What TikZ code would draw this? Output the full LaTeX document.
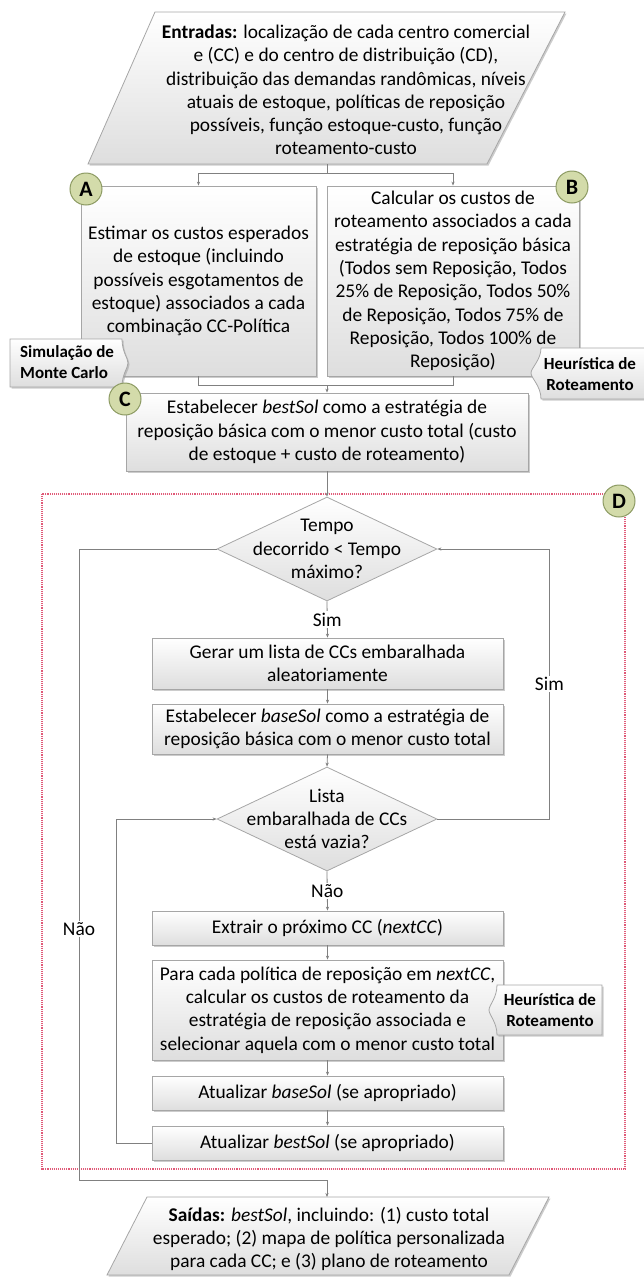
\documentclass[tikz,border=0pt]{standalone}
\usepackage{fontspec}
\setmainfont{Carlito}
\usetikzlibrary{shapes.geometric,shadows,arrows.meta,calc}
\definecolor{bordergray}{HTML}{A6A6A6}
\definecolor{boxgray}{HTML}{DEDEDE}
\definecolor{linegray}{HTML}{808080}
\definecolor{circfill}{HTML}{D3DBAA}
\definecolor{circline}{HTML}{8C9A62}
\definecolor{reddash}{HTML}{E05A78}
\newcommand{\bodyfont}{\fontsize{19.4}{23.3}\selectfont}
\newcommand{\callfont}{\fontsize{17}{21}\selectfont\bfseries}
\begin{document}
\begin{tikzpicture}[x=1pt,y=-1pt,
  shade/.style={draw=bordergray, line width=0.8pt, top color=white, bottom color=boxgray},
  shad/.style={drop shadow={shadow xshift=1.5pt,shadow yshift=-1.5pt,fill=black!40,opacity=0.5}},
  box/.style={shade, shad, rectangle, inner sep=0pt, align=center, font=\bodyfont},
  dia/.style={shade, diamond, inner sep=0pt, minimum width=220pt, minimum height=104pt},
  txt/.style={align=center, font=\bodyfont, inner sep=0pt},
  calltxt/.style={align=left, font=\callfont, inner sep=0pt},
  circ/.style={circle, draw=circline, fill=circfill, line width=1pt, minimum size=32pt, inner sep=0pt, font=\fontsize{22}{22}\selectfont\bfseries},
  ln/.style={draw=linegray, line width=0.8pt},
  arr/.style={ln, -{Stealth[length=4pt,width=3.2pt]}},
  lbl/.style={fill=white, font=\bodyfont, inner sep=1.5pt},
  reddot/.style={draw=reddash, line width=1.1pt, densely dotted}
]
\useasboundingbox (0,0) rectangle (644,1277);

% dashed region D
\draw[reddot] (42,494) rectangle (625,1169);

% input parallelogram
\path[shade, shad] (155,12) -- (565,12) -- (487,164) -- (88,164) -- cycle;
\node[txt] (inp) at (346,90) {\textbf{Entradas:} localização de cada centro comercial\\ e (CC) e do centro de distribuição (CD),\\ distribuição das demandas randômicas, níveis\\ atuais de estoque, políticas de reposição\\ possíveis, função estoque-custo, função\\ roteamento-custo};
\coordinate (inS) at (327,164);

% boxes A, B, C
\node[box, minimum width=235pt, minimum height=190pt] (A) at (198.5,281) {Estimar os custos esperados\\ de estoque (incluindo\\ possíveis esgotamentos de\\ estoque) associados a cada\\ combinação CC-Política};
\node[box, minimum width=252pt, minimum height=190pt] (B) at (453,281) {Calcular os custos de\\ roteamento associados a cada\\ estratégia de reposição básica\\ (Todos sem Reposição, Todos\\ 25\% de Reposição, Todos 50\%\\ de Reposição, Todos 75\% de\\ Reposição, Todos 100\% de\\ Reposição)};
\node[box, minimum width=402pt, minimum height=78pt] (C) at (327,432) {Estabelecer \textit{bestSol} como a estratégia de\\ reposição básica com o menor custo total (custo\\ de estoque + custo de roteamento)};

% callouts
\path[shade, shad] (10,339) -- (122,339) .. controls (122,352) and (128,358) .. (128,363) .. controls (128,368) and (122,374) .. (122,387) -- (10,387) -- cycle;
\node[calltxt, anchor=west] (mc) at (20,362) {Simulação de\\ Monte Carlo};
\path[shade, shad] (541,348) -- (650,348) -- (650,399) -- (541,399) .. controls (541,386) and (531,378) .. (531,373) .. controls (531,368) and (541,360) .. (541,348) -- cycle;
\node[calltxt, align=center] (hr1) at (590,374) {Heurística de\\ Roteamento};

% loop elements
\node[dia] (d1) at (327,549) {};
\node[txt] (d1t) at (d1) {Tempo\\ decorrido < Tempo\\ máximo?};
\node[box, minimum width=351pt, minimum height=51pt] (gerar) at (327.5,663.5) {Gerar um lista de CCs embaralhada\\ aleatoriamente};
\node[box, minimum width=351pt, minimum height=50pt] (base) at (327.5,729) {Estabelecer \textit{baseSol} como a estratégia de\\ reposição básica com o menor custo total};
\node[dia] (d2) at (327,819) {};
\node[txt] (d2t) at (d2) {Lista\\ embaralhada de CCs\\ está vazia?};
\node[box, minimum width=351pt, minimum height=34pt] (extr) at (327.5,928) {Extrair o próximo CC (\textit{nextCC})};
\node[box, minimum width=351pt, minimum height=100pt] (para) at (327.5,1010) {Para cada política de reposição em \textit{nextCC},\\ calcular os custos de roteamento da\\ estratégia de reposição associada e\\ selecionar aquela com o menor custo total};
\node[box, minimum width=351pt, minimum height=34pt] (atb) at (327.5,1093) {Atualizar \textit{baseSol} (se apropriado)};
\node[box, minimum width=351pt, minimum height=34pt] (atbest) at (327.5,1143) {Atualizar \textit{bestSol} (se apropriado)};

\path[shade, shad] (497,985) -- (602,985) -- (602,1035) -- (497,1035) .. controls (497,1022) and (489,1015) .. (489,1010) .. controls (489,1005) and (497,998) .. (497,985) -- cycle;
\node[calltxt, align=center] (hr2) at (550,1010) {Heurística de\\ Roteamento};

% output parallelogram
\path[shade, shad] (147,1197) -- (549,1197) -- (509,1275) -- (107,1275) -- cycle;
\node[txt] (out) at (329,1239) {\textbf{Saídas:} \textit{bestSol}, incluindo: (1) custo total\\ esperado; (2) mapa de política personalizada\\ para cada CC; e (3) plano de roteamento};
\coordinate (outN) at (327,1197);

% circles
\node[circ] (cA) at (86,189) {A};
\node[circ] (cB) at (572,187) {B};
\node[circ] (cC) at (125,399) {C};
\node[circ] (cD) at (619,501) {D};

% connectors
\coordinate (j1) at (327,173);
\coordinate (j2) at (327,385);
\draw[ln] (inS) -- (j1);
\draw[arr] (j1) -| (A.north);
\draw[arr] (j1) -| (B.north);
\draw[ln] (A.south) |- (j2);
\draw[ln] (B.south) |- (j2);
\draw[arr] (j2) -- (C.north);
\draw[arr] (C.south) -- (d1.north);
\draw[arr] (d1.south) -- node[lbl] (sim1) {Sim} (gerar.north);
\draw[arr] (gerar.south) -- (base.north);
\draw[arr] (base.south) -- (d2.north);
\draw[arr] (d2.south) -- node[lbl] (nao1) {Não} (extr.north);
\draw[arr] (extr.south) -- (para.north);
\draw[arr] (para.south) -- (atb.north);
\draw[arr] (atb.south) -- (atbest.north);
\draw[arr] (atbest.west) -- ++(-35,0) |- (d2.west);
\draw[arr] (d2.east) -- ++(112,0) |- node[lbl, pos=0.25] (sim2) {Sim} (d1.east);
\coordinate (n1) at (79,1180);
\draw[arr] (d1.west) -| (n1) -| (outN);
\node[lbl] (nao2) at (79,929) {Não};
\end{tikzpicture}
\end{document}
